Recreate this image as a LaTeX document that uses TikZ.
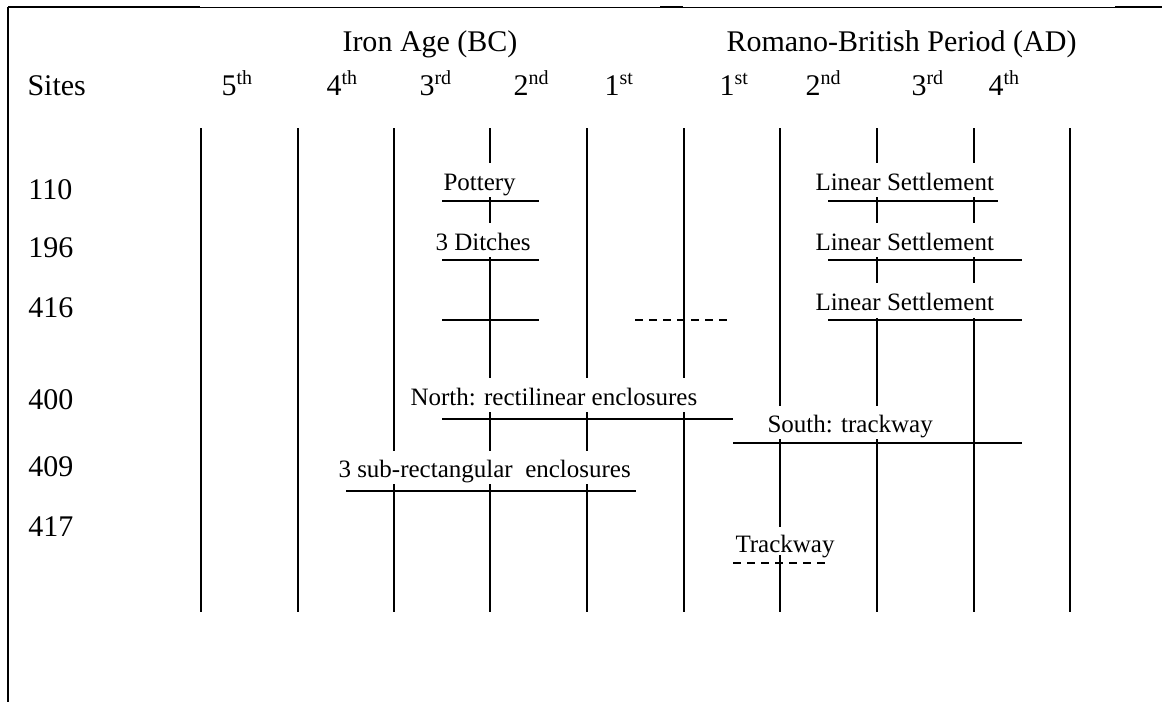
\documentclass[tikz,border=0pt]{standalone}
\usepackage{fontspec}
\setmainfont{Liberation Serif}

\begin{document}
\begin{tikzpicture}[x=0.4pt,y=-0.4pt]

% definitions
\tikzstyle{head} = [font=\fontsize{12}{14}\selectfont, inner sep=0pt, anchor=base west]

\tikzstyle{event} = [font=\fontsize{10}{12}\selectfont, inner sep=0pt, anchor=base west]

\tikzstyle{frameline} = [line width=1pt]

\tikzstyle{century} = [line width=0.6pt]

\tikzstyle{bar} = [line width=0.7pt]

\tikzstyle{uncertain} = [bar, dash pattern=on 3.2pt off 2.4pt]

\useasboundingbox (0,0) rectangle (1162,702);

% frame
\draw [line width=0.4pt] (8,7) -- (1162,7);
\draw [frameline] (8,7) -- (200,7);
\draw [frameline] (660,7) -- (683,7);
\draw [frameline] (1115,7) -- (1162,7);
\draw [frameline] (8,7) -- (8,702);

% headings
\node (ironage) [head, anchor=base] at (430,51) {Iron Age (BC)};

\node (roman) [head, anchor=base east] at (1077,51) {Romano-British Period (AD)};

\node (sites) [head] at (27,95) {Sites};

\node (bc5) [head] at (221,95) {5\textsuperscript{th}};
\node (bc4) [head] at (326,95) {4\textsuperscript{th}};
\node (bc3) [head] at (419,95) {3\textsuperscript{rd}};
\node (bc2) [head] at (513,95) {2\textsuperscript{nd}};
\node (bc1) [head] at (604,95) {1\textsuperscript{st}};
\node (ad1) [head] at (719,95) {1\textsuperscript{st}};
\node (ad2) [head] at (805,95) {2\textsuperscript{nd}};
\node (ad3) [head] at (911,95) {3\textsuperscript{rd}};
\node (ad4) [head] at (988,95) {4\textsuperscript{th}};

% sites
\node (s110) [head] at (28,199) {110};
\node (s196) [head] at (28,257) {196};
\node (s416) [head] at (28,317) {416};
\node (s400) [head] at (28,409) {400};
\node (s409) [head] at (28,476) {409};
\node (s417) [head] at (28,536) {417};

% events
\node (pottery) [event] at (443,190) {Pottery};
\node (ditches) [event] at (435,250) {3 Ditches};
\node (lin110) [event] at (815,190) {Linear Settlement};
\node (lin196) [event] at (815,250) {Linear Settlement};
\node (lin416) [event] at (815,310) {Linear Settlement};
\node (north) [event] at (410,405) {North: rectilinear enclosures};
\node (south) [event] at (767,432) {South: trackway};
\node (subrect) [event] at (338,477) {3 sub-rectangular\ \ enclosures};
\node (track) [event] at (735,552) {Trackway};

% century lines
\draw [century] (201,128) -- (201,612);
\draw [century] (298,128) -- (298,612);
\draw [century] (394,128) -- (394,451) (394,484) -- (394,612);
\draw [century] (490,128) -- (490,163) (490,197) -- (490,223) (490,257) -- (490,378) (490,412) -- (490,451) (490,484) -- (490,612);
\draw [century] (587,128) -- (587,378) (587,412) -- (587,451) (587,484) -- (587,612);
\draw [century] (684,128) -- (684,378) (684,412) -- (684,612);
\draw [century] (780,128) -- (780,406) (780,439) -- (780,527) (780,555) -- (780,612);
\draw [century] (877,128) -- (877,163) (877,197) -- (877,223) (877,257) -- (877,283) (877,318) -- (877,406) (877,439) -- (877,612);
\draw [century] (974,128) -- (974,163) (974,197) -- (974,223) (974,257) -- (974,283) (974,318) -- (974,612);
\draw [century] (1070,128) -- (1070,612);

% date ranges
\draw [bar] (442,201) -- (539,201);
\draw [bar] (828,201) -- (998,201);
\draw [bar] (442,260) -- (539,260);
\draw [bar] (828,260) -- (1022,260);
\draw [bar] (442,320) -- (539,320);
\draw [uncertain] (635,320) -- (727,320);
\draw [bar] (828,320) -- (1022,320);
\draw [bar] (442,419) -- (733,419);
\draw [bar] (733,443) -- (1022,443);
\draw [bar] (346,491) -- (636,491);
\draw [uncertain] (733,563) -- (825,563);

\end{tikzpicture}
\end{document}
